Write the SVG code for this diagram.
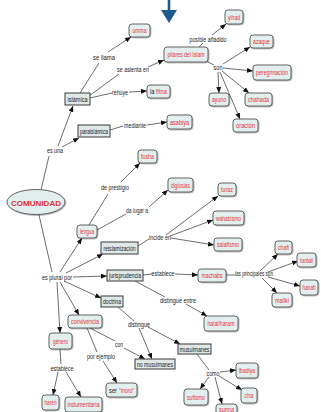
<svg xmlns="http://www.w3.org/2000/svg" width="321" height="412" viewBox="0 0 321 412">
  <style>
    .c rect, .c ellipse { fill: #e3eeee; stroke: #555; stroke-width: 0.9; filter: url(#sh); }
    .b rect { fill: #dfe7e7; stroke: #3a3a3a; stroke-width: 1; }
    text { font-family: "Liberation Sans", Arial, sans-serif; font-size: 6.9px; text-anchor: middle; }
    text.s { text-anchor: start; }
    .c text { fill: #e5323a; }
    .b text, .lbl, .c text.k { fill: #222; }
    .ln { fill: none; stroke: #2e2e2e; stroke-width: 0.7; }
    .ln path.a { marker-end: url(#ah); }
  </style>
  <defs>
    <marker id="ah" markerUnits="userSpaceOnUse" markerWidth="6" markerHeight="5" refX="6" refY="2.5" orient="auto">
      <path d="M0,0 L6,2.5 L0,5 z" fill="#111"/>
    </marker>
    <filter id="sh" x="-20%" y="-20%" width="140%" height="150%">
      <feDropShadow dx="0.8" dy="0.8" stdDeviation="0.4" flood-color="#000" flood-opacity="0.35"/>
    </filter>
  </defs>

  <rect width="321" height="412" fill="#ffffff"/>

  <!-- entry arrow at the top -->
  <g id="entry">
    <path d="M169,0 L169,11" stroke="#1e5a8c" stroke-width="2.6"/>
    <polygon points="161,10 177,10 169,23" fill="#1e5a8c"/>
  </g>

  <!-- connectors -->
  <g id="connectors" class="ln">
    <path d="M41,190 L49,156"/>
    <path class="a" d="M58,146 L73,106"/>
    <path class="a" d="M62,147 L79,138"/>
    <path d="M80,93 L99,63"/>
    <path class="a" d="M108,52 L131,37"/>
    <path d="M89,96 L119,74"/>
    <path class="a" d="M148,67 L164,60"/>
    <path d="M90,98 L112,93"/>
    <path class="a" d="M129,92 L147,91"/>
    <path d="M110,130 L123,126"/>
    <path class="a" d="M147,125 L167,122"/>
    <path d="M199,47 L203,43"/>
    <path class="a" d="M212,35 L226,24"/>
    <path d="M206,61 L214,65"/>
    <path class="a" d="M223,64 L250,47"/>
    <path class="a" d="M223,68 L253,71"/>
    <path class="a" d="M222,71 L249,93"/>
    <path class="a" d="M218,72 L219,93"/>
    <path class="a" d="M220,72 L240,119"/>
    <path d="M39,215 L52,272"/>
    <path class="a" d="M60,272 L82,238"/>
    <path class="a" d="M66,273 L103,254"/>
    <path class="a" d="M73,277 L107,276"/>
    <path class="a" d="M64,281 L101,298"/>
    <path class="a" d="M60,282 L79,315"/>
    <path class="a" d="M57,282 L60,333"/>
    <path d="M89,225 L108,194"/>
    <path class="a" d="M121,182 L140,163"/>
    <path d="M97,230 L126,214"/>
    <path class="a" d="M149,207 L168,190"/>
    <path d="M138,246 L149,239"/>
    <path class="a" d="M166,235 L218,196"/>
    <path class="a" d="M170,236 L213,220"/>
    <path class="a" d="M171,238 L214,245"/>
    <path d="M143,275 L152,274"/>
    <path class="a" d="M175,274 L198,275"/>
    <path d="M135,281 L165,297"/>
    <path class="a" d="M186,304 L207,316"/>
    <path d="M226,275 L235,275"/>
    <path class="a" d="M260,271 L278,254"/>
    <path class="a" d="M268,272 L298,261"/>
    <path class="a" d="M268,277 L300,286"/>
    <path class="a" d="M262,278 L277,293"/>
    <path d="M118,307 L134,321"/>
    <path class="a" d="M139,328 L152,359"/>
    <path class="a" d="M148,327 L180,344"/>
    <path d="M90,328 L115,341"/>
    <path class="a" d="M124,348 L145,359"/>
    <path d="M87,328 L97,352"/>
    <path class="a" d="M103,361 L117,383"/>
    <path d="M60,349 L61,364"/>
    <path class="a" d="M58,372 L53,395"/>
    <path class="a" d="M66,372 L81,397"/>
    <path d="M197,354 L209,370"/>
    <path class="a" d="M220,372 L236,370"/>
    <path class="a" d="M219,376 L242,390"/>
    <path class="a" d="M209,377 L200,389"/>
    <path class="a" d="M215,377 L222,404"/>
  </g>

  <!-- linking phrases -->
  <g id="labels" class="lbl">
    <text x="104" y="59.5" textLength="22" lengthAdjust="spacingAndGlyphs">se llama</text>
    <text x="133" y="71.5" textLength="32" lengthAdjust="spacingAndGlyphs">se asienta en</text>
    <text x="120" y="94.5" textLength="16" lengthAdjust="spacingAndGlyphs">rehúye</text>
    <text x="135" y="127.5" textLength="22" lengthAdjust="spacingAndGlyphs">mediante</text>
    <text x="208" y="41.5" textLength="37" lengthAdjust="spacingAndGlyphs">posible añadido</text>
    <text x="218" y="69.5" textLength="9" lengthAdjust="spacingAndGlyphs">son</text>
    <text x="55" y="152.5" textLength="16" lengthAdjust="spacingAndGlyphs">es una</text>
    <text x="115" y="189.5" textLength="28" lengthAdjust="spacingAndGlyphs">de prestigio</text>
    <text x="137" y="212.5" textLength="22" lengthAdjust="spacingAndGlyphs">da lugar a</text>
    <text x="160" y="239.5" textLength="22" lengthAdjust="spacingAndGlyphs">incide en</text>
    <text x="57" y="279.5" textLength="30" lengthAdjust="spacingAndGlyphs">es plural por</text>
    <text x="163" y="275.5" textLength="23" lengthAdjust="spacingAndGlyphs">establece</text>
    <text x="178" y="302.5" textLength="36" lengthAdjust="spacingAndGlyphs">distingue entre</text>
    <text x="254" y="275.5" textLength="38" lengthAdjust="spacingAndGlyphs">las principales son</text>
    <text x="139" y="326.5" textLength="22" lengthAdjust="spacingAndGlyphs">distingue</text>
    <text x="119" y="346.5" textLength="8" lengthAdjust="spacingAndGlyphs">con</text>
    <text x="101" y="358.5" textLength="28" lengthAdjust="spacingAndGlyphs">por ejemplo</text>
    <text x="62" y="370.5" textLength="23" lengthAdjust="spacingAndGlyphs">establece</text>
    <text x="213" y="375.5" textLength="13" lengthAdjust="spacingAndGlyphs">como</text>
  </g>

  <!-- concepts -->
  <g id="comunidad" class="c">
    <ellipse cx="36" cy="202" rx="29" ry="12.5"/>
    <text x="36" y="205.8" font-size="10" font-weight="bold" textLength="50" lengthAdjust="spacingAndGlyphs">COMUNIDAD</text>
  </g>
  <g id="islamica" class="b"><rect x="65" y="93" width="25" height="12"/><text x="77.5" y="101.5" textLength="20" lengthAdjust="spacingAndGlyphs">islámica</text></g>
  <g id="paraislamica" class="b"><rect x="78" y="125" width="32" height="12"/><text x="94" y="133.5" textLength="28" lengthAdjust="spacingAndGlyphs">paraislámica</text></g>
  <g id="umma" class="c"><rect x="129" y="24" width="21" height="13" rx="3"/><text x="139.5" y="33" textLength="14" lengthAdjust="spacingAndGlyphs">umma</text></g>
  <g id="pilares" class="c"><rect x="164" y="47" width="44" height="15" rx="3"/><text x="186" y="57" textLength="37" lengthAdjust="spacingAndGlyphs">pilares del Islam</text></g>
  <g id="yihad" class="c"><rect x="225" y="10" width="18" height="14" rx="3"/><text x="234" y="19.5" textLength="12" lengthAdjust="spacingAndGlyphs">yihad</text></g>
  <g id="azaque" class="c"><rect x="250" y="35" width="23" height="13" rx="3"/><text x="261.5" y="44" textLength="17" lengthAdjust="spacingAndGlyphs">azaque</text></g>
  <g id="peregrinacion" class="c"><rect x="253" y="65" width="38" height="15" rx="3"/><text x="272" y="75" textLength="32" lengthAdjust="spacingAndGlyphs">peregrinación</text></g>
  <g id="chahada" class="c"><rect x="245" y="93" width="27" height="13" rx="3"/><text x="258.5" y="102" textLength="21" lengthAdjust="spacingAndGlyphs">chahada</text></g>
  <g id="ayuno" class="c"><rect x="209" y="93" width="20" height="13" rx="3"/><text x="219" y="102" textLength="14" lengthAdjust="spacingAndGlyphs">ayuno</text></g>
  <g id="oracion" class="c"><rect x="233" y="119" width="25" height="13" rx="3"/><text x="245.5" y="128" textLength="19" lengthAdjust="spacingAndGlyphs">oración</text></g>
  <g id="fitna" class="c"><rect x="147" y="85" width="23" height="13" rx="3"/>
    <text class="s k" x="150" y="94" textLength="4.5" lengthAdjust="spacingAndGlyphs">la</text>
    <text class="s" x="156" y="94" textLength="11" lengthAdjust="spacingAndGlyphs">fitna</text></g>
  <g id="asabiya" class="c"><rect x="167" y="115" width="25" height="14" rx="3"/><text x="179.5" y="124.5" textLength="19" lengthAdjust="spacingAndGlyphs">asabiya</text></g>
  <g id="fusha" class="c"><rect x="138" y="150" width="19" height="13" rx="3"/><text x="147.5" y="159" textLength="13" lengthAdjust="spacingAndGlyphs">fusha</text></g>
  <g id="diglosias" class="c"><rect x="168" y="178" width="25" height="14" rx="3"/><text x="180.5" y="187.5" textLength="19" lengthAdjust="spacingAndGlyphs">diglosias</text></g>
  <g id="lengua" class="c"><rect x="77" y="225" width="20" height="13" rx="3"/><text x="87" y="234" textLength="14" lengthAdjust="spacingAndGlyphs">lengua</text></g>
  <g id="reislamizacion" class="b"><rect x="101" y="242" width="37" height="12"/><text x="119.5" y="250.5" textLength="32" lengthAdjust="spacingAndGlyphs">reislamización</text></g>
  <g id="turaz" class="c"><rect x="218" y="183" width="18" height="13" rx="3"/><text x="227" y="192" textLength="12" lengthAdjust="spacingAndGlyphs">turaz</text></g>
  <g id="wahabismo" class="c"><rect x="213" y="211" width="31" height="14" rx="3"/><text x="228.5" y="220.5" textLength="25" lengthAdjust="spacingAndGlyphs">wahabismo</text></g>
  <g id="salafismo" class="c"><rect x="214" y="238" width="28" height="13" rx="3"/><text x="228" y="247" textLength="22" lengthAdjust="spacingAndGlyphs">salafismo</text></g>
  <g id="jurisprudencia" class="b"><rect x="107" y="270" width="36" height="11"/><text x="125" y="278" textLength="32" lengthAdjust="spacingAndGlyphs">jurisprudencia</text></g>
  <g id="machabs" class="c"><rect x="198" y="269" width="28" height="13" rx="3"/><text x="212" y="278" textLength="21" lengthAdjust="spacingAndGlyphs">machabs</text></g>
  <g id="chafi" class="c"><rect x="275" y="241" width="17" height="13" rx="3"/><text x="283.5" y="250" textLength="11" lengthAdjust="spacingAndGlyphs">chafi</text></g>
  <g id="hanbali" class="c"><rect x="297" y="253" width="19" height="14" rx="3"/><text x="306.5" y="262.5" textLength="13" lengthAdjust="spacingAndGlyphs">hanbali</text></g>
  <g id="hanafi" class="c"><rect x="300" y="280" width="18" height="15" rx="3"/><text x="309" y="290" textLength="13" lengthAdjust="spacingAndGlyphs">hanafi</text></g>
  <g id="maliki" class="c"><rect x="272" y="293" width="20" height="14" rx="3"/><text x="282" y="302.5" textLength="14" lengthAdjust="spacingAndGlyphs">maliki</text></g>
  <g id="halal-haram" class="c"><rect x="204" y="316" width="34" height="15" rx="3"/><text x="221" y="326" textLength="27" lengthAdjust="spacingAndGlyphs">halal/haram</text></g>
  <g id="doctrina" class="b"><rect x="101" y="296" width="22" height="11"/><text x="112" y="304" textLength="18" lengthAdjust="spacingAndGlyphs">doctrina</text></g>
  <g id="musulmanes" class="b"><rect x="178" y="344" width="33" height="10"/><text x="194.5" y="351.5" textLength="30" lengthAdjust="spacingAndGlyphs">musulmanes</text></g>
  <g id="no-musulmanes" class="b"><rect x="135" y="359" width="40" height="10"/><text x="155" y="366.5" textLength="36" lengthAdjust="spacingAndGlyphs">no musulmanes</text></g>
  <g id="convivencia" class="c"><rect x="68" y="315" width="34" height="13" rx="3"/><text x="85" y="324" textLength="28" lengthAdjust="spacingAndGlyphs">convivencia</text></g>
  <g id="ser-moro" class="c"><rect x="106" y="383" width="31" height="14" rx="3"/>
    <text class="s k" x="109" y="392.5" textLength="8" lengthAdjust="spacingAndGlyphs">ser</text>
    <text class="s" x="119" y="392.5" textLength="15" lengthAdjust="spacingAndGlyphs">"moro"</text></g>
  <g id="genero" class="c"><rect x="49" y="333" width="23" height="16" rx="3"/><text x="60.5" y="343.5" textLength="15" lengthAdjust="spacingAndGlyphs">género</text></g>
  <g id="haren" class="c"><rect x="42" y="395" width="17" height="15" rx="3"/><text x="50.5" y="405" textLength="12" lengthAdjust="spacingAndGlyphs">harén</text></g>
  <g id="indumentaria" class="c"><rect x="65" y="397" width="37" height="15" rx="3"/><text x="83.5" y="407" textLength="32" lengthAdjust="spacingAndGlyphs">indumentaria</text></g>
  <g id="ibadiya" class="c"><rect x="236" y="363" width="22" height="15" rx="3"/><text x="247" y="373" textLength="16" lengthAdjust="spacingAndGlyphs">ibadiya</text></g>
  <g id="chia" class="c"><rect x="241" y="388" width="16" height="15" rx="3"/><text x="249" y="398" textLength="9" lengthAdjust="spacingAndGlyphs">chía</text></g>
  <g id="sufismo" class="c"><rect x="184" y="389" width="24" height="16" rx="3"/><text x="196" y="399.5" textLength="18" lengthAdjust="spacingAndGlyphs">sufismo</text></g>
  <g id="sunna" class="c"><rect x="216" y="404" width="21" height="12" rx="3"/><text x="226.5" y="412" textLength="15" lengthAdjust="spacingAndGlyphs">sunna</text></g>
</svg>
